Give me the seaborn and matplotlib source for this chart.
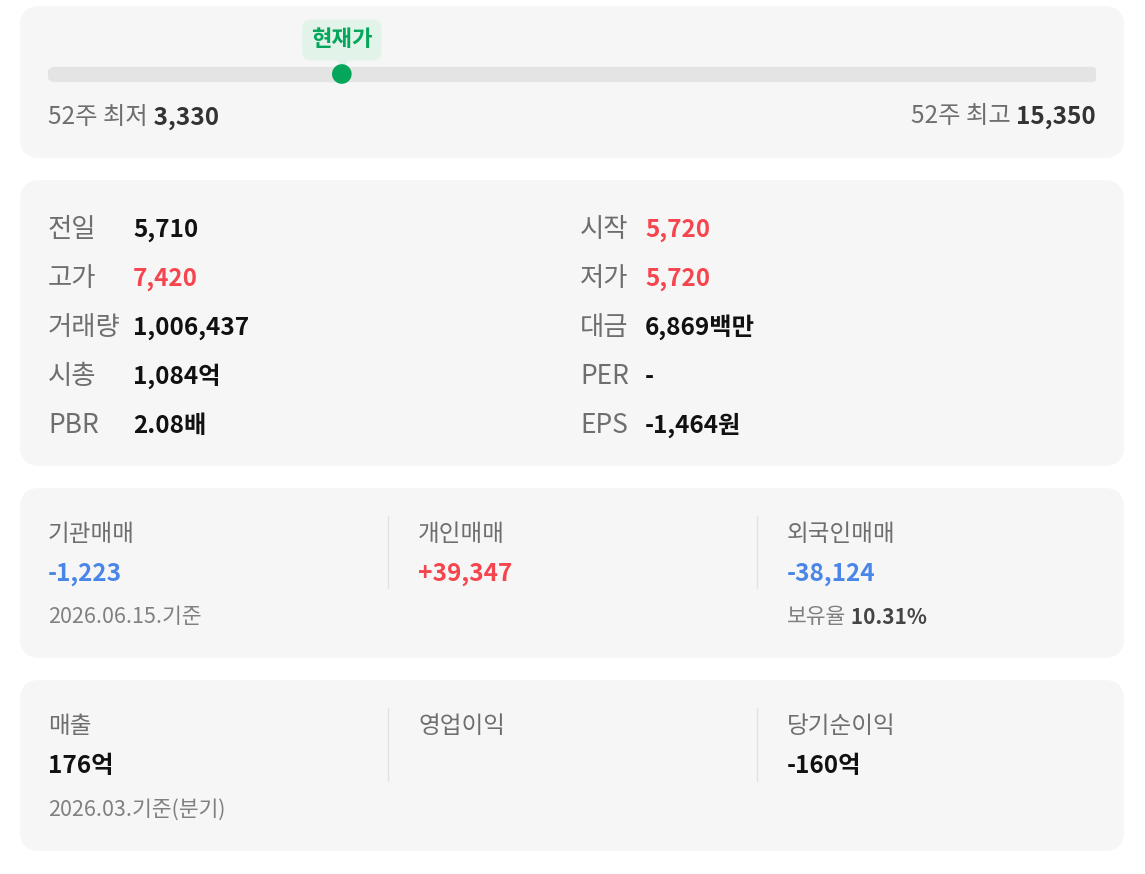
import matplotlib
matplotlib.use("Agg")
import matplotlib.pyplot as plt
import seaborn as sns
from matplotlib.patches import FancyBboxPatch
from matplotlib.transforms import ScaledTranslation

# ----------------------------------------
# Data
# ----------------------------------------
low_52w = 3330
high_52w = 15350
current_price = 6700

left_labels = ["전일", "고가", "거래량", "시총", "PBR"]
left_values = ["5,710", "7,420", "1,006,437", "1,084억", "2.08배"]
left_colors = ["black", "red", "black", "black", "black"]

right_labels = ["시작", "저가", "대금", "PER", "EPS"]
right_values = ["5,720", "5,720", "6,869백만", "-", "-1,464원"]
right_colors = ["red", "red", "black", "black", "black"]

trade_labels = ["기관매매", "개인매매", "외국인매매"]
trade_values = ["-1,223", "+39,347", "-38,124"]
trade_date = "2026.06.15.기준"
foreign_share = "10.31%"

fin_labels = ["매출", "영업이익", "당기순이익"]
fin_values = ["176억", "", "-160억"]
fin_date = "2026.03.기준(분기)"

# ----------------------------------------
# Style
# ----------------------------------------
sns.set_theme(style="white")
plt.rcParams["font.family"] = ["Noto Sans CJK KR", "DejaVu Sans"]

palette = {"black": "#111111", "red": "#f5464f", "blue": "#4a86e8"}
GRAY = "#6e6e6e"
LIGHT = "#808080"
CARD = "#f6f6f6"
GREEN = "#03a65a"
BADGE = "#e2f3ea"

W, H = 1145, 874
fig = plt.figure(figsize=(W / 100, H / 100), dpi=100)
fig.patch.set_facecolor("white")
ax = fig.add_axes([0, 0, 1, 1])
ax.set_xlim(0, W)
ax.set_ylim(H, 0)
ax.axis("off")


def card(y0, y1):
    ax.add_patch(FancyBboxPatch((20, y0), 1104, y1 - y0,
                                boxstyle="round,pad=0,rounding_size=20",
                                fc=CARD, ec="none", zorder=0))


def divider(x, y0, y1):
    ax.plot([x, x], [y0, y1], color="#e2e2e2", lw=1, zorder=1)


card(6, 158)
card(180, 466)
card(488, 658)
card(680, 851)

# ----------------------------------------
# 52-week range bar
# ----------------------------------------
bar_ax = fig.add_axes([48 / W, 1 - 84 / H, (1096 - 48) / W, 20 / H])
bar_ax.set_xlim(low_52w, high_52w)
bar_ax.set_ylim(-1, 1)
bar_ax.axis("off")
bar_ax.patch.set_alpha(0)
pad = (high_52w - low_52w) * 5.5 / 1048
bar_ax.plot([low_52w + pad, high_52w - pad], [0, 0], color="#e4e4e4", lw=11,
            solid_capstyle="round", zorder=1)
sns.scatterplot(x=[current_price], y=[0], ax=bar_ax, s=200, color=GREEN,
                edgecolor="none", zorder=3, clip_on=False, legend=False)
bar_ax.annotate("현재가", xy=(current_price, 0), xytext=(0, 34),
                textcoords="offset pixels", ha="center", va="center",
                fontsize=16, fontweight="bold", color=GREEN,
                bbox=dict(boxstyle="round,pad=0.4,rounding_size=0.4",
                          fc=BADGE, ec="none"), annotation_clip=False)
bar_ax.plot([current_price], [0], marker="v", ms=8, color=BADGE,
            transform=bar_ax.transData + ScaledTranslation(0, 11 / 100, fig.dpi_scale_trans),
            clip_on=False, zorder=2)

lo = ax.text(48, 124, "52주 최저", fontsize=17.5, color=GRAY, va="baseline")
ax.annotate(" " + f"{low_52w:,}", xy=(1, 0), xycoords=lo, va="bottom",
            fontsize=17.5, fontweight="bold", color="#333333")
hi = ax.text(1096, 124, f"{high_52w:,}", fontsize=17.5, fontweight="bold",
             color="#333333", va="baseline", ha="right")
ax.annotate("52주 최고 ", xy=(0, 0), xycoords=hi, va="bottom", ha="right",
            fontsize=17.5, color=GRAY)

# ----------------------------------------
# Price table
# ----------------------------------------
rows_y = [237, 286, 335, 384, 433]
for i, y in enumerate(rows_y):
    ax.text(48, y, left_labels[i], fontsize=19, color=GRAY, va="baseline")
    ax.text(133, y, left_values[i], fontsize=17.5, fontweight="bold",
            color=palette[left_colors[i]], va="baseline")
    ax.text(580, y, right_labels[i], fontsize=19, color=GRAY, va="baseline")
    ax.text(645, y, right_values[i], fontsize=17.5, fontweight="bold",
            color=palette[right_colors[i]], va="baseline")

# ----------------------------------------
# Investor trading
# ----------------------------------------
col_x = [48, 418, 787]
for i, x in enumerate(col_x):
    ax.text(x, 541, trade_labels[i], fontsize=17, color=GRAY, va="baseline")
    v = trade_values[i]
    ax.text(x, 581, v, fontsize=17.5, fontweight="bold",
            color=palette["blue"] if v.startswith("-") else palette["red"],
            va="baseline")
divider(388, 516, 588)
divider(757, 516, 588)
ax.text(48, 623, trade_date, fontsize=15.5, color=LIGHT, va="baseline")
fs = ax.text(787, 623, "보유율", fontsize=15.5, color=LIGHT, va="baseline")
ax.annotate(" " + foreign_share, xy=(1, 0), xycoords=fs, va="bottom",
            fontsize=15, fontweight="bold", color="#444444")

# ----------------------------------------
# Financials
# ----------------------------------------
for i, x in enumerate(col_x):
    ax.text(x, 733, fin_labels[i], fontsize=17, color=GRAY, va="baseline")
    ax.text(x, 773, fin_values[i], fontsize=17.5, fontweight="bold",
            color=palette["black"], va="baseline")
divider(388, 708, 781)
divider(757, 708, 781)
ax.text(48, 816, fin_date, fontsize=15.5, color=LIGHT, va="baseline")

fig.savefig("out.png", dpi=100, facecolor="white")
